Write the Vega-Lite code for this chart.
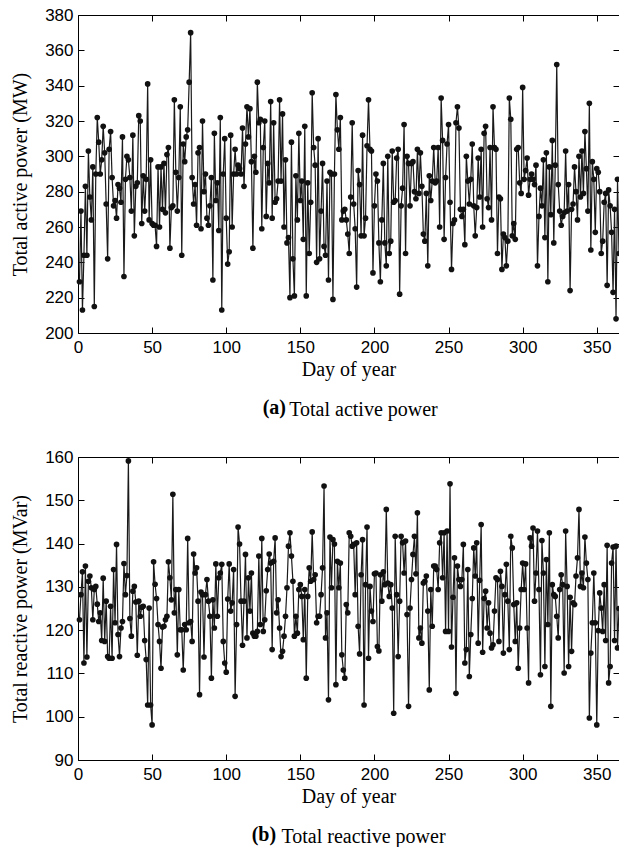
{
"$schema": "https://vega.github.io/schema/vega-lite/v6.json",
"background": "white",
"padding": {"left": 10, "top": 6, "right": 0, "bottom": 0},
"spacing": 28,
"config": {
  "view": {"stroke": null},
  "axis": {"grid": false, "domainColor": "black", "tickColor": "black", "labelColor": "black", "titleColor": "black", "labelFont": "Liberation Sans", "labelFontSize": 17, "titleFont": "Liberation Serif", "titleFontSize": 20, "titleFontWeight": "normal", "tickSize": -6, "labelFlush": false, "labelOverlap": false, "domainWidth": 1, "tickWidth": 1},
  "axisBottom": {"labelPadding": 12},
  "axisLeft": {"labelPadding": 11},
  "title": {"font": "Liberation Serif", "fontSize": 20, "color": "black"}
},
"data": {"values": [
{"day":1,"active":229,"reactive":122.4},{"day":2,"active":269,"reactive":128.2},{"day":3,"active":213,"reactive":133.5},{"day":4,"active":244,"reactive":112.4},{"day":5,"active":283,"reactive":134.8},{"day":6,"active":244,"reactive":113.8},{"day":7,"active":303,"reactive":131.3},{"day":8,"active":277,"reactive":132.5},{"day":9,"active":264,"reactive":129.8},{"day":10,"active":294,"reactive":122.4},
{"day":11,"active":215,"reactive":129.4},{"day":12,"active":290,"reactive":130.1},{"day":13,"active":322,"reactive":126},{"day":14,"active":308,"reactive":122},{"day":15,"active":290,"reactive":124},{"day":16,"active":298,"reactive":117.6},{"day":17,"active":317,"reactive":132},{"day":18,"active":302,"reactive":117.4},{"day":19,"active":273,"reactive":126.7},{"day":20,"active":242,"reactive":113.9},
{"day":21,"active":304,"reactive":113.5},{"day":22,"active":314,"reactive":125.5},{"day":23,"active":288,"reactive":113.5},{"day":24,"active":272,"reactive":134},{"day":25,"active":275,"reactive":121.7},{"day":26,"active":265,"reactive":139.8},{"day":27,"active":284,"reactive":119},{"day":28,"active":282,"reactive":113.9},{"day":29,"active":274,"reactive":120.5},{"day":30,"active":311,"reactive":122},
{"day":31,"active":232,"reactive":135.4},{"day":32,"active":287,"reactive":128.2},{"day":33,"active":300,"reactive":132.6},{"day":34,"active":298,"reactive":159.1},{"day":35,"active":288,"reactive":122.7},{"day":36,"active":269,"reactive":118.6},{"day":37,"active":312,"reactive":129},{"day":38,"active":255,"reactive":130.1},{"day":39,"active":283,"reactive":126.5},{"day":40,"active":285,"reactive":114.2},
{"day":41,"active":323,"reactive":126.7},{"day":42,"active":320,"reactive":123.2},{"day":43,"active":262,"reactive":125.3},{"day":44,"active":289,"reactive":125.5},{"day":45,"active":269,"reactive":117.6},{"day":46,"active":287,"reactive":113.2},{"day":47,"active":341,"reactive":102.7},{"day":48,"active":264,"reactive":125.1},{"day":49,"active":298,"reactive":102.7},{"day":50,"active":262,"reactive":98.1},
{"day":51,"active":261,"reactive":135.8},{"day":52,"active":261,"reactive":130.6},{"day":53,"active":249,"reactive":127.3},{"day":54,"active":294,"reactive":121.3},{"day":55,"active":260,"reactive":117.4},{"day":56,"active":294,"reactive":111.2},{"day":57,"active":270,"reactive":120.7},{"day":58,"active":296,"reactive":120.9},{"day":59,"active":268,"reactive":122.4},{"day":60,"active":301,"reactive":123.2},
{"day":61,"active":305,"reactive":135.8},{"day":62,"active":248,"reactive":132.1},{"day":63,"active":271,"reactive":127},{"day":64,"active":272,"reactive":151.4},{"day":65,"active":332,"reactive":124},{"day":66,"active":291,"reactive":129.4},{"day":67,"active":269,"reactive":114.3},{"day":68,"active":288,"reactive":129.4},{"day":69,"active":328,"reactive":120.1},{"day":70,"active":244,"reactive":120.1},
{"day":71,"active":307,"reactive":110.8},{"day":72,"active":297,"reactive":121.3},{"day":73,"active":311,"reactive":120.1},{"day":74,"active":315,"reactive":141.2},{"day":75,"active":342,"reactive":121.7},{"day":76,"active":370,"reactive":122},{"day":77,"active":288,"reactive":117.4},{"day":78,"active":273,"reactive":137.6},{"day":79,"active":284,"reactive":133.2},{"day":80,"active":261,"reactive":134.4},
{"day":81,"active":302,"reactive":126.7},{"day":82,"active":305,"reactive":105.1},{"day":83,"active":259,"reactive":128.8},{"day":84,"active":320,"reactive":128.2},{"day":85,"active":280,"reactive":113.8},{"day":86,"active":290,"reactive":128.2},{"day":87,"active":265,"reactive":131.7},{"day":88,"active":261,"reactive":126.7},{"day":89,"active":272,"reactive":123.2},{"day":90,"active":288,"reactive":108.9},
{"day":91,"active":230,"reactive":127},{"day":92,"active":313,"reactive":120.5},{"day":93,"active":275,"reactive":135.3},{"day":94,"active":285,"reactive":123.2},{"day":95,"active":258,"reactive":132.1},{"day":96,"active":322,"reactive":133.2},{"day":97,"active":213,"reactive":135.2},{"day":98,"active":290,"reactive":117.4},{"day":99,"active":310,"reactive":112.4},{"day":100,"active":265,"reactive":110.3},
{"day":101,"active":239,"reactive":127.2},{"day":102,"active":246,"reactive":135.3},{"day":103,"active":312,"reactive":124.4},{"day":104,"active":260,"reactive":126.3},{"day":105,"active":290,"reactive":134},{"day":106,"active":304,"reactive":104.7},{"day":107,"active":290,"reactive":121.3},{"day":108,"active":295,"reactive":143.8},{"day":109,"active":293,"reactive":139.9},{"day":110,"active":290,"reactive":126.7},
{"day":111,"active":316,"reactive":116.5},{"day":112,"active":283,"reactive":126.7},{"day":113,"active":307,"reactive":137.5},{"day":114,"active":328,"reactive":118.2},{"day":115,"active":311,"reactive":132.1},{"day":116,"active":327,"reactive":124.4},{"day":117,"active":297,"reactive":133.2},{"day":118,"active":248,"reactive":119.3},{"day":119,"active":300,"reactive":118.6},{"day":120,"active":291,"reactive":118.6},
{"day":121,"active":342,"reactive":119.7},{"day":122,"active":319,"reactive":137.1},{"day":123,"active":321,"reactive":121.3},{"day":124,"active":259,"reactive":141.2},{"day":125,"active":305,"reactive":119.7},{"day":126,"active":320,"reactive":122.4},{"day":127,"active":266,"reactive":129.1},{"day":128,"active":296,"reactive":134},{"day":129,"active":285,"reactive":137.6},{"day":130,"active":331,"reactive":135.5},
{"day":131,"active":265,"reactive":115.5},{"day":132,"active":319,"reactive":135.9},{"day":133,"active":274,"reactive":141.3},{"day":134,"active":276,"reactive":124},{"day":135,"active":286,"reactive":127},{"day":136,"active":332,"reactive":120.5},{"day":137,"active":286,"reactive":113.9},{"day":138,"active":324,"reactive":115.1},{"day":139,"active":260,"reactive":118.6},{"day":140,"active":298,"reactive":123.2},
{"day":141,"active":251,"reactive":129.8},{"day":142,"active":254,"reactive":139.4},{"day":143,"active":220,"reactive":142.5},{"day":144,"active":308,"reactive":137.1},{"day":145,"active":242,"reactive":131.3},{"day":146,"active":221,"reactive":118.6},{"day":147,"active":289,"reactive":123.2},{"day":148,"active":264,"reactive":119.3},{"day":149,"active":313,"reactive":129.4},{"day":150,"active":275,"reactive":130.5},
{"day":151,"active":286,"reactive":127.8},{"day":152,"active":253,"reactive":117.8},{"day":153,"active":317,"reactive":129.4},{"day":154,"active":221,"reactive":108.9},{"day":155,"active":285,"reactive":127.8},{"day":156,"active":245,"reactive":134.4},{"day":157,"active":274,"reactive":131.3},{"day":158,"active":336,"reactive":142.7},{"day":159,"active":305,"reactive":131.7},{"day":160,"active":295,"reactive":132.8},
{"day":161,"active":240,"reactive":121.7},{"day":162,"active":310,"reactive":123.2},{"day":163,"active":242,"reactive":123.2},{"day":164,"active":269,"reactive":128.2},{"day":165,"active":296,"reactive":134.4},{"day":166,"active":249,"reactive":153.3},{"day":167,"active":244,"reactive":118.2},{"day":168,"active":286,"reactive":124},{"day":169,"active":230,"reactive":103.9},{"day":170,"active":291,"reactive":141.5},
{"day":171,"active":290,"reactive":129.8},{"day":172,"active":219,"reactive":140.9},{"day":173,"active":290,"reactive":139.9},{"day":174,"active":335,"reactive":107.4},{"day":175,"active":315,"reactive":135.9},{"day":176,"active":304,"reactive":129.8},{"day":177,"active":322,"reactive":135.5},{"day":178,"active":264,"reactive":114.3},{"day":179,"active":269,"reactive":110.8},{"day":180,"active":270,"reactive":108.9},
{"day":181,"active":264,"reactive":125.9},{"day":182,"active":256,"reactive":124},{"day":183,"active":245,"reactive":142.5},{"day":184,"active":277,"reactive":141.7},{"day":185,"active":319,"reactive":139.4},{"day":186,"active":273,"reactive":139.8},{"day":187,"active":259,"reactive":128.2},{"day":188,"active":226,"reactive":140.2},{"day":189,"active":292,"reactive":120.9},{"day":190,"active":284,"reactive":114.5},
{"day":191,"active":255,"reactive":132.8},{"day":192,"active":312,"reactive":140.9},{"day":193,"active":255,"reactive":102.7},{"day":194,"active":265,"reactive":130.5},{"day":195,"active":306,"reactive":143.8},{"day":196,"active":332,"reactive":113.5},{"day":197,"active":304,"reactive":130.1},{"day":198,"active":303,"reactive":124.4},{"day":199,"active":234,"reactive":122},{"day":200,"active":272,"reactive":133},
{"day":201,"active":290,"reactive":133.2},{"day":202,"active":286,"reactive":116.2},{"day":203,"active":251,"reactive":115.2},{"day":204,"active":229,"reactive":132.8},{"day":205,"active":264,"reactive":126.7},{"day":206,"active":296,"reactive":133.5},{"day":207,"active":251,"reactive":130.5},{"day":208,"active":238,"reactive":147.9},{"day":209,"active":300,"reactive":130.9},{"day":210,"active":245,"reactive":127.8},
{"day":211,"active":252,"reactive":130.5},{"day":212,"active":303,"reactive":125.1},{"day":213,"active":274,"reactive":100.8},{"day":214,"active":275,"reactive":141.7},{"day":215,"active":299,"reactive":128.2},{"day":216,"active":304,"reactive":113.9},{"day":217,"active":222,"reactive":126.7},{"day":218,"active":272,"reactive":141.7},{"day":219,"active":282,"reactive":140.2},{"day":220,"active":318,"reactive":133.2},
{"day":221,"active":245,"reactive":140.6},{"day":222,"active":300,"reactive":123.6},{"day":223,"active":296,"reactive":102.4},{"day":224,"active":272,"reactive":125.1},{"day":225,"active":296,"reactive":131.7},{"day":226,"active":297,"reactive":137.5},{"day":227,"active":280,"reactive":141.7},{"day":228,"active":276,"reactive":133},{"day":229,"active":304,"reactive":147.1},{"day":230,"active":279,"reactive":118.2},
{"day":231,"active":302,"reactive":120.5},{"day":232,"active":283,"reactive":117},{"day":233,"active":256,"reactive":130.9},{"day":234,"active":252,"reactive":131.3},{"day":235,"active":279,"reactive":132.5},{"day":236,"active":238,"reactive":124.4},{"day":237,"active":289,"reactive":106.2},{"day":238,"active":275,"reactive":129.4},{"day":239,"active":286,"reactive":120.9},{"day":240,"active":305,"reactive":134.8},
{"day":241,"active":285,"reactive":134.8},{"day":242,"active":286,"reactive":134},{"day":243,"active":305,"reactive":129.4},{"day":244,"active":260,"reactive":140.2},{"day":245,"active":333,"reactive":142.5},{"day":246,"active":309,"reactive":132.1},{"day":247,"active":253,"reactive":142.5},{"day":248,"active":288,"reactive":119.7},{"day":249,"active":307,"reactive":142.9},{"day":250,"active":318,"reactive":119.7},
{"day":251,"active":274,"reactive":153.8},{"day":252,"active":236,"reactive":116.1},{"day":253,"active":262,"reactive":127.6},{"day":254,"active":264,"reactive":136.7},{"day":255,"active":319,"reactive":105.4},{"day":256,"active":328,"reactive":134.8},{"day":257,"active":316,"reactive":131.7},{"day":258,"active":270,"reactive":130.1},{"day":259,"active":266,"reactive":131.7},{"day":260,"active":270,"reactive":139.8},
{"day":261,"active":250,"reactive":112.4},{"day":262,"active":300,"reactive":115.5},{"day":263,"active":286,"reactive":134},{"day":264,"active":273,"reactive":109.3},{"day":265,"active":287,"reactive":119},{"day":266,"active":307,"reactive":127.3},{"day":267,"active":272,"reactive":139},{"day":268,"active":255,"reactive":132.5},{"day":269,"active":271,"reactive":140.2},{"day":270,"active":299,"reactive":117},
{"day":271,"active":277,"reactive":131.5},{"day":272,"active":304,"reactive":144.4},{"day":273,"active":260,"reactive":114.9},{"day":274,"active":313,"reactive":127.3},{"day":275,"active":317,"reactive":129},{"day":276,"active":276,"reactive":120.5},{"day":277,"active":271,"reactive":126.3},{"day":278,"active":305,"reactive":119.3},{"day":279,"active":264,"reactive":115.9},{"day":280,"active":328,"reactive":116.6},
{"day":281,"active":305,"reactive":124.4},{"day":282,"active":304,"reactive":132.1},{"day":283,"active":245,"reactive":131.7},{"day":284,"active":277,"reactive":117.4},{"day":285,"active":276,"reactive":133.6},{"day":286,"active":236,"reactive":130.1},{"day":287,"active":256,"reactive":114.7},{"day":288,"active":254,"reactive":128.2},{"day":289,"active":238,"reactive":135.2},{"day":290,"active":252,"reactive":126.7},
{"day":291,"active":333,"reactive":115.5},{"day":292,"active":321,"reactive":141.7},{"day":293,"active":255,"reactive":139},{"day":294,"active":262,"reactive":125.9},{"day":295,"active":253,"reactive":117.4},{"day":296,"active":304,"reactive":126.3},{"day":297,"active":305,"reactive":111.2},{"day":298,"active":285,"reactive":120.5},{"day":299,"active":279,"reactive":129.4},{"day":300,"active":339,"reactive":135.5},
{"day":301,"active":287,"reactive":129.4},{"day":302,"active":292,"reactive":135.3},{"day":303,"active":299,"reactive":120.5},{"day":304,"active":278,"reactive":107.8},{"day":305,"active":287,"reactive":141.3},{"day":306,"active":290,"reactive":139.4},{"day":307,"active":287,"reactive":143.6},{"day":308,"active":284,"reactive":126.7},{"day":309,"active":295,"reactive":133.2},{"day":310,"active":238,"reactive":142.9},
{"day":311,"active":266,"reactive":129.4},{"day":312,"active":282,"reactive":109.7},{"day":313,"active":272,"reactive":140.7},{"day":314,"active":298,"reactive":133.2},{"day":315,"active":254,"reactive":111.6},{"day":316,"active":302,"reactive":136.3},{"day":317,"active":229,"reactive":121.3},{"day":318,"active":294,"reactive":142.5},{"day":319,"active":267,"reactive":102.4},{"day":320,"active":309,"reactive":130.5},
{"day":321,"active":251,"reactive":128.2},{"day":322,"active":295,"reactive":127.8},{"day":323,"active":352,"reactive":123.2},{"day":324,"active":284,"reactive":118.2},{"day":325,"active":269,"reactive":129.4},{"day":326,"active":261,"reactive":132.8},{"day":327,"active":266,"reactive":130.5},{"day":328,"active":268,"reactive":110.1},{"day":329,"active":303,"reactive":142.9},{"day":330,"active":269,"reactive":130.1},
{"day":331,"active":284,"reactive":111.6},{"day":332,"active":224,"reactive":127.6},{"day":333,"active":270,"reactive":115.1},{"day":334,"active":273,"reactive":126.3},{"day":335,"active":294,"reactive":125.9},{"day":336,"active":280,"reactive":132.5},{"day":337,"active":264,"reactive":136.7},{"day":338,"active":300,"reactive":147.9},{"day":339,"active":277,"reactive":130.1},{"day":340,"active":303,"reactive":133.2},
{"day":341,"active":279,"reactive":129.8},{"day":342,"active":314,"reactive":141.5},{"day":343,"active":293,"reactive":135.5},{"day":344,"active":269,"reactive":131.7},{"day":345,"active":330,"reactive":99.7},{"day":346,"active":247,"reactive":114.7},{"day":347,"active":297,"reactive":121.7},{"day":348,"active":287,"reactive":133.2},{"day":349,"active":257,"reactive":121.7},{"day":350,"active":293,"reactive":98.1},
{"day":351,"active":291,"reactive":119.9},{"day":352,"active":280,"reactive":128.6},{"day":353,"active":245,"reactive":125.1},{"day":354,"active":252,"reactive":119.7},{"day":355,"active":274,"reactive":130.5},{"day":356,"active":279,"reactive":117.6},{"day":357,"active":227,"reactive":139.6},{"day":358,"active":281,"reactive":107.8},{"day":359,"active":272,"reactive":111.6},{"day":360,"active":257,"reactive":135.5},
{"day":361,"active":223,"reactive":139.2},{"day":362,"active":270,"reactive":117.6},{"day":363,"active":208,"reactive":139.4},{"day":364,"active":287,"reactive":115.9},{"day":365,"active":245,"reactive":125}
]},
"vconcat": [
  {
    "title": {"text": "(a)", "orient": "bottom", "anchor": "start", "fontWeight": "bold", "offset": -22, "dx": 252},
    "vconcat": [
      {
        "width": 541, "height": 318,
        "title": {"text": "Total active power", "orient": "bottom", "fontWeight": "normal", "offset": 21, "dx": 15},
        "layer": [
          {"mark": {"type": "line", "color": "#1a1a1a", "strokeWidth": 1.2},
           "encoding": {
             "x": {"field": "day", "type": "quantitative", "scale": {"domain": [0, 365], "nice": false, "zero": false}, "axis": {"values": [0,50,100,150,200,250,300,350], "title": "Day of year", "titlePadding": 4}},
             "y": {"field": "active", "type": "quantitative", "scale": {"domain": [200, 380], "nice": false, "zero": false}, "axis": {"values": [200,220,240,260,280,300,320,340,360,380], "title": "Total active power (MW)", "titlePadding": 14}}
           }},
          {"mark": {"type": "point", "shape": "circle", "filled": true, "size": 32, "color": "#111111", "opacity": 1},
           "encoding": {
             "x": {"field": "day", "type": "quantitative", "axis": {"orient": "top", "values": [0,50,100,150,200,250,300,350], "labels": false, "title": null}},
             "y": {"field": "active", "type": "quantitative", "axis": {"orient": "right", "values": [200,220,240,260,280,300,320,340,360,380], "labels": false, "title": null}}
           }}
        ],
        "resolve": {"axis": {"x": "independent", "y": "independent"}}
      }
    ]
  },
  {
    "title": {"text": "(b)", "orient": "bottom", "anchor": "start", "fontWeight": "bold", "offset": -22, "dx": 241},
    "vconcat": [
      {
        "width": 541, "height": 303,
        "title": {"text": "Total reactive power", "orient": "bottom", "fontWeight": "normal", "offset": 21, "dx": 15},
        "layer": [
          {"mark": {"type": "line", "color": "#1a1a1a", "strokeWidth": 1.2},
           "encoding": {
             "x": {"field": "day", "type": "quantitative", "scale": {"domain": [0, 365], "nice": false, "zero": false}, "axis": {"values": [0,50,100,150,200,250,300,350], "title": "Day of year", "titlePadding": 4}},
             "y": {"field": "reactive", "type": "quantitative", "scale": {"domain": [90, 160], "nice": false, "zero": false}, "axis": {"values": [90,100,110,120,130,140,150,160], "title": "Total reactive power (MVar)", "titlePadding": 14}}
           }},
          {"mark": {"type": "point", "shape": "circle", "filled": true, "size": 32, "color": "#111111", "opacity": 1},
           "encoding": {
             "x": {"field": "day", "type": "quantitative", "axis": {"orient": "top", "values": [0,50,100,150,200,250,300,350], "labels": false, "title": null}},
             "y": {"field": "reactive", "type": "quantitative", "axis": {"orient": "right", "values": [90,100,110,120,130,140,150,160], "labels": false, "title": null}}
           }}
        ],
        "resolve": {"axis": {"x": "independent", "y": "independent"}}
      }
    ]
  }
]
}
